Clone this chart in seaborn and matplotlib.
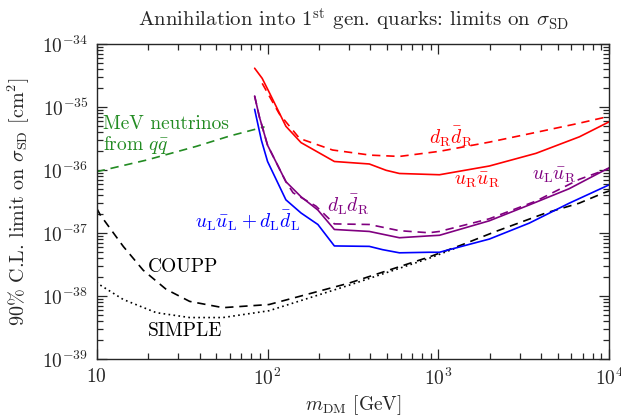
import numpy as np
import pandas as pd
import matplotlib
matplotlib.use("Agg")
import matplotlib.pyplot as plt
import seaborn as sns
from matplotlib.ticker import FixedLocator, FixedFormatter, LogLocator, NullFormatter

# ---------------- data ----------------
uRuR_x = [84, 93, 103, 128, 157, 246, 394, 494, 591, 1014, 1986, 3726, 6683, 10000]
uRuR_y = [4.17e-35, 2.88e-35, 1.66e-35, 5.0e-36, 2.75e-36, 1.38e-36, 1.26e-36,
          1.0e-36, 8.9e-37, 8.5e-37, 1.17e-36, 1.86e-36, 3.4e-36, 5.9e-36]

dRdR_x = [93, 117, 154, 240, 400, 591, 1014, 1986, 3726, 6683, 10000]
dRdR_y = [2.4e-35, 7.9e-36, 3.2e-36, 2.1e-36, 1.74e-36, 1.66e-36, 2.0e-36,
          2.8e-36, 4.0e-36, 5.6e-36, 7.2e-36]

uLuR_x = [84, 89.5, 100, 128, 157, 197, 246, 394, 591, 880, 1014, 1986, 3400, 5820, 10000]
uLuR_y = [1.51e-35, 7.1e-36, 2.5e-36, 6.6e-37, 3.8e-37, 2.34e-37, 1.15e-37,
          1.07e-37, 8.5e-38, 9.1e-38, 9.3e-38, 1.58e-37, 2.82e-37, 5.1e-37, 1.1e-36]

dLdR_x = [84, 89.5, 100, 128, 141, 192, 246, 394, 591, 880, 1014, 1986, 3726, 6683, 10000]
dLdR_y = [1.51e-35, 7.1e-36, 2.5e-36, 6.6e-37, 4.4e-37, 2.7e-37, 1.41e-37,
          1.38e-37, 1.10e-37, 1.02e-37, 1.07e-37, 1.70e-37, 3.25e-37, 7.2e-37, 1.07e-36]

uLdL_x = [84, 92, 100, 128, 157, 197, 246, 394, 471, 591, 880, 1014, 1986, 3400, 5820, 10000]
uLdL_y = [9.3e-36, 3.0e-36, 1.38e-36, 3.4e-37, 2.1e-37, 1.38e-37, 6.3e-38,
          6.2e-38, 5.5e-38, 4.9e-38, 5.0e-38, 5.0e-38, 8.1e-38, 1.45e-37, 3.0e-37, 5.9e-37]

nu_x = [10, 19.5, 38.3, 60, 96]
nu_y = [9.5e-37, 1.45e-36, 2.4e-36, 3.5e-36, 4.9e-36]

coupp_x = [10, 10.5, 14.3, 18.7, 25.5, 35, 54.8, 102, 300, 880, 1380, 2166, 4250, 6650, 9310, 10000]
coupp_y = [2.5e-37, 1.95e-37, 6.2e-38, 2.6e-38, 1.29e-38, 8.3e-39, 6.6e-39, 7.4e-39,
           1.62e-38, 4.2e-38, 6.6e-38, 1.07e-37, 2.1e-37, 3.0e-37, 4.4e-37, 4.7e-37]

simple_x = [10, 10.2, 14.3, 22.3, 35, 54.8, 102, 300, 880, 1380]
simple_y = [1.7e-38, 1.58e-38, 8.9e-39, 5.5e-39, 4.6e-39, 4.6e-39, 5.9e-39,
            1.5e-38, 4.0e-38, 6.4e-38]

xtick_vals = [10, 100, 1000, 10000]
xtick_labels = ["$10$", "$10^2$", "$10^3$", "$10^4$"]
ytick_vals = [1e-39, 1e-38, 1e-37, 1e-36, 1e-35, 1e-34]
ytick_labels = ["$10^{-39}$", "$10^{-38}$", "$10^{-37}$", "$10^{-36}$", "$10^{-35}$", "$10^{-34}$"]

# ---------------- style ----------------
sns.set_style("ticks")
plt.rcParams["font.family"] = ["cmr10", "DejaVu Serif"]
plt.rcParams["mathtext.fontset"] = "cm"
plt.rcParams["axes.formatter.use_mathtext"] = True
plt.rcParams["axes.unicode_minus"] = False

fig = plt.figure(figsize=(6.21, 4.17), dpi=100)
ax = fig.add_axes([96.7 / 621, 1 - 359.3 / 417, (609.3 - 96.7) / 621, (359.3 - 44.3) / 417])

DASH = (0, (5, 3.5))
DOT = (0, (1, 2.0))
lw = 1.2


def draw(x, y, color, ls):
    df = pd.DataFrame({"m": x, "s": y})
    sns.lineplot(data=df, x="m", y="s", ax=ax, color=color, linestyle=ls,
                 linewidth=lw, estimator=None, sort=False)


draw(nu_x, nu_y, "forestgreen", DASH)
draw(coupp_x, coupp_y, "black", DASH)
draw(simple_x, simple_y, "black", DOT)
draw(uLdL_x, uLdL_y, "blue", "-")
draw(uLuR_x, uLuR_y, "purple", "-")
draw(dLdR_x, dLdR_y, "purple", DASH)
draw(uRuR_x, uRuR_y, "red", "-")
draw(dRdR_x, dRdR_y, "red", DASH)

ax.set_xscale("log")
ax.set_yscale("log")
ax.set_xlim(10, 1e4)
ax.set_ylim(1e-39, 1e-34)

ax.xaxis.set_major_locator(FixedLocator(xtick_vals))
ax.xaxis.set_major_formatter(FixedFormatter(xtick_labels))
ax.yaxis.set_major_locator(FixedLocator(ytick_vals))
ax.yaxis.set_major_formatter(FixedFormatter(ytick_labels))
ax.xaxis.set_minor_locator(LogLocator(base=10, subs=np.arange(2, 10), numticks=20))
ax.yaxis.set_minor_locator(LogLocator(base=10, subs=np.arange(2, 10), numticks=20))
ax.xaxis.set_minor_formatter(NullFormatter())
ax.yaxis.set_minor_formatter(NullFormatter())

ax.tick_params(which="both", direction="in", top=True, right=True, labelsize=14, width=0.9)
ax.tick_params(which="major", length=7.5, pad=6)
ax.tick_params(which="minor", length=4)
for s in ax.spines.values():
    s.set_linewidth(1.0)

ax.set_xlabel(r"$m_{\rm DM}$ [GeV]", fontsize=14, labelpad=3)
ax.set_ylabel(r"90% C.L. limit on $\sigma_{\rm SD}$ [cm$^2$]", fontsize=14.5, labelpad=7)
ax.set_title(r"Annihilation into 1$^{\rm st}$ gen. quarks: limits on $\sigma_{\rm SD}$",
             fontsize=15, pad=13)

tk = dict(transform=ax.transData, fontsize=14)
ax.text(10.9, 3.6e-36, "MeV neutrinos\nfrom $q\\bar{q}$", color="forestgreen",
        ha="left", va="center", linespacing=1.05, **tk)
ax.text(20, 2.9e-38, "COUPP", color="black", ha="left", va="center", **tk)
ax.text(20, 2.8e-39, "SIMPLE", color="black", ha="left", va="center", **tk)
ax.text(37.5, 1.6e-37, r"$u_{\rm L}\bar{u}_{\rm L}+d_{\rm L}\bar{d}_{\rm L}$", color="blue",
        ha="left", va="center", **tk)
ax.text(224, 2.8e-37, r"$d_{\rm L}\bar{d}_{\rm R}$", color="purple", ha="left", va="center", **tk)
ax.text(885, 3.4e-36, r"$d_{\rm R}\bar{d}_{\rm R}$", color="red", ha="left", va="center", **tk)
ax.text(1240, 7.0e-37, r"$u_{\rm R}\bar{u}_{\rm R}$", color="red", ha="left", va="center", **tk)
ax.text(3530, 8.4e-37, r"$u_{\rm L}\bar{u}_{\rm R}$", color="purple", ha="left", va="center", **tk)

fig.savefig("out.png", dpi=100)
